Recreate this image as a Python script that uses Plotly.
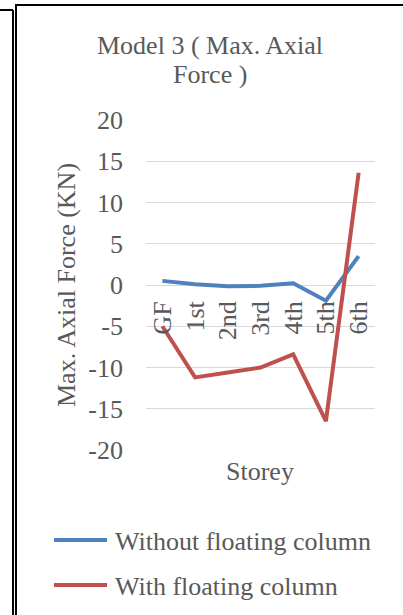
import plotly.graph_objects as go

# Storey categories and maximum axial force (KN) per model variant
storeys = ["GF", "1st", "2nd", "3rd", "4th", "5th", "6th"]
without_floating = [0.5, 0.1, -0.15, -0.1, 0.2, -1.9, 3.5]
with_floating = [-5.0, -11.2, -10.6, -10.0, -8.4, -16.5, 13.6]
y_ticks = [20, 15, 10, 5, 0, -5, -10, -15, -20]
y_tick_labels = [str(v) for v in y_ticks]  # plain hyphen for negatives

BLUE = "#4f81bd"
RED = "#c0504d"
TEXT = "#595959"
FONT = "Liberation Serif, Times New Roman, serif"

W, H = 403, 615
L, R, T, B = 146, 375, 120, 450  # plot area edges in pixels


def px(x):
    return (x - L) / (R - L)


def py(y):
    return (B - y) / (B - T)


fig = go.Figure()
fig.add_trace(go.Scatter(x=storeys, y=without_floating, mode="lines",
                         line=dict(color=BLUE, width=4),
                         name="Without floating column", showlegend=False))
fig.add_trace(go.Scatter(x=storeys, y=with_floating, mode="lines",
                         line=dict(color=RED, width=4),
                         name="With floating column", showlegend=False))

fig.update_layout(
    width=W, height=H,
    margin=dict(l=L, r=W - R, t=T, b=H - B),
    paper_bgcolor="white", plot_bgcolor="white",
    font=dict(family=FONT, size=26, color=TEXT),
    xaxis=dict(type="category", range=[-0.5, 6.5], anchor="free", position=0.5,
               showgrid=False, showline=False, zeroline=False, ticks="",
               tickangle=-90, ticklabelstandoff=10,
               tickfont=dict(family=FONT, size=26, color=TEXT)),
    yaxis=dict(range=[-20, 20], tickvals=y_ticks, ticktext=y_tick_labels,
               showgrid=True, gridcolor="#d9d9d9", gridwidth=1,
               zeroline=False, showline=False, ticks="", ticklabelstandoff=22,
               tickfont=dict(family=FONT, size=26, color=TEXT)),
)

annotations = [
    dict(text="Model 3 ( Max. Axial", x=px(210), y=py(45)),
    dict(text="Force )", x=px(210), y=py(74)),
    dict(text="Storey", x=px(260), y=py(471)),
    dict(text="Max. Axial Force (KN)", x=px(66), y=py(285), textangle=-90),
    dict(text="Without floating column", x=px(113), y=py(541), xanchor="left"),
    dict(text="With floating column", x=px(113), y=py(586), xanchor="left"),
]
for a in annotations:
    a.setdefault("xanchor", "center")
    fig.add_annotation(xref="paper", yref="paper", yanchor="middle",
                       showarrow=False, font=dict(family=FONT, size=26, color=TEXT), **a)

shapes = [
    # legend keys
    dict(type="line", x0=px(54), x1=px(107), y0=py(540), y1=py(540),
         line=dict(color=BLUE, width=4)),
    dict(type="line", x0=px(54), x1=px(107), y0=py(585), y1=py(585),
         line=dict(color=RED, width=4)),
    # frame lines
    dict(type="line", x0=px(0), x1=px(13), y0=py(10), y1=py(10),
         line=dict(color="black", width=2)),
    dict(type="line", x0=px(13), x1=px(13), y0=py(10), y1=py(620),
         line=dict(color="black", width=2)),
    dict(type="line", x0=px(16), x1=px(16), y0=py(5), y1=py(620),
         line=dict(color="black", width=2)),
    dict(type="line", x0=px(15), x1=px(410), y0=py(5), y1=py(5),
         line=dict(color="black", width=2)),
]
for s in shapes:
    fig.add_shape(xref="paper", yref="paper", layer="above", **s)

fig.write_html("out.html")
